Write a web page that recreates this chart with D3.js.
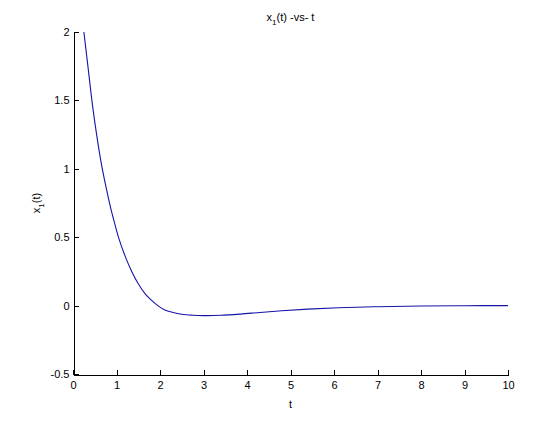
<!DOCTYPE html>
<html>
	<head>
		<meta charset="utf-8">
		<style type="text/css">
			body { margin: 0; background: white; }
			svg { display: block; font-family: "Liberation Sans", Arial, sans-serif; }
			.axis path, .axis line { stroke: black; shape-rendering: crispEdges; }
			.axis text { font-size: 11px; fill: black; font-family: "Liberation Sans", Arial, sans-serif; }
		</style>
		<title>x1(t) -vs- t</title>
	</head>
	<body>
		<script src="https://cdn.jsdelivr.net/npm/d3@7"></script>
		<script>

// samples
var t_values  = [0.25, 0.35, 0.45, 0.55, 0.65, 0.75, 0.85, 0.95, 1.05, 1.2, 1.35, 1.5, 1.65, 1.8, 1.95,
                 2.1, 2.3, 2.5, 2.75, 3.0, 3.4, 3.85, 4.3, 4.8, 5.4, 6.1, 7.0, 8.0, 9.0, 10];
var x1_values = [2.0, 1.73, 1.46, 1.235, 1.04, 0.88, 0.735, 0.61, 0.495, 0.36, 0.25, 0.16, 0.09, 0.04, 0.0,
                 -0.03, -0.05, -0.063, -0.07, -0.073, -0.071, -0.062, -0.05, -0.038, -0.026, -0.016, -0.008, -0.003, -0.001, 0];

var x_ticks = [0, 1, 2, 3, 4, 5, 6, 7, 8, 9, 10];
var y_ticks = [-0.5, 0, 0.5, 1, 1.5, 2];
var y_tick_labels = ["-0.5", "0", "0.5", "1", "1.5", "2"];

var width = 560, height = 421;
var margin = {left: 73, right: 508, top: 32, bottom: 374};

var x = d3.scaleLinear().domain([0, 10]).range([margin.left, margin.right]);
var y = d3.scaleLinear().domain([-0.5, 2]).range([margin.bottom, margin.top]);

var svg = d3.select('body').append('svg')
    .attr('width', width)
    .attr('height', height);

svg.append('rect')
    .attr('width', width)
    .attr('height', height)
    .attr('fill', 'white');

var xAxis = d3.axisBottom(x)
    .tickValues(x_ticks)
    .tickFormat(d => String(d))
    .tickSizeInner(-5)
    .tickSizeOuter(0)
    .tickPadding(7);

svg.append('g')
    .attr('class', 'axis')
    .attr('transform', `translate(0,${margin.bottom + 0.5})`)
    .call(xAxis);

var yAxis = d3.axisLeft(y)
    .tickValues(y_ticks)
    .tickFormat((d, i) => y_tick_labels[i])
    .tickSizeInner(-5)
    .tickSizeOuter(0)
    .tickPadding(4);

svg.append('g')
    .attr('class', 'axis')
    .attr('transform', `translate(${margin.left + 0.5},0)`)
    .call(yAxis);

var data = t_values.map((t, i) => [t, x1_values[i]]);

var line = d3.line()
    .x(d => x(d[0]))
    .y(d => y(d[1]))
    .curve(d3.curveCatmullRom.alpha(0.5));

svg.append('path').datum(data)
    .attr('d', line)
    .attr('fill', 'none')
    .attr('stroke', '#1414a8')
    .attr('stroke-width', 1.1);

// title
var title = svg.append('text')
    .attr('x', (margin.left + margin.right) / 2)
    .attr('y', 21)
    .attr('text-anchor', 'middle')
    .attr('font-size', '11px');
title.append('tspan').text('x');
title.append('tspan').attr('dy', 4).attr('font-size', '8px').text('1');
title.append('tspan').attr('dy', -4).text('(t) -vs- t');

// x label
svg.append('text')
    .attr('x', (margin.left + margin.right) / 2)
    .attr('y', 408)
    .attr('text-anchor', 'middle')
    .attr('font-size', '11px')
    .text('t');

// y label
var ylabel = svg.append('text')
    .attr('transform', `translate(40,${(margin.top + margin.bottom) / 2}) rotate(-90)`)
    .attr('text-anchor', 'middle')
    .attr('font-size', '11px');
ylabel.append('tspan').text('x');
ylabel.append('tspan').attr('dy', 4).attr('font-size', '8px').text('1');
ylabel.append('tspan').attr('dy', -4).text('(t)');

		</script>
	</body>
</html>
